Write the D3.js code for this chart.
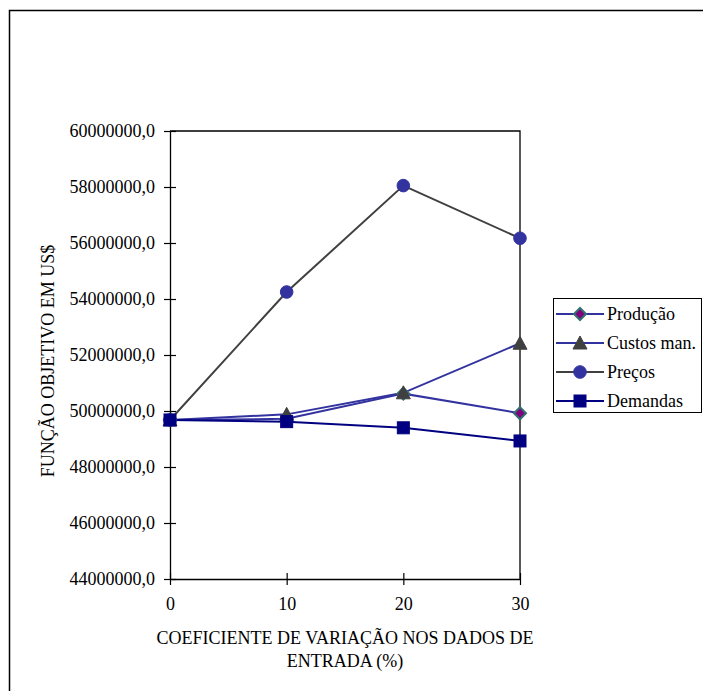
<!DOCTYPE html>
<html><head><meta charset="utf-8">
<script src="https://cdn.jsdelivr.net/npm/d3@7"></script>
<style>body{margin:0;background:#fff}svg{display:block}</style>
</head><body><svg id="c" width="703" height="691"></svg>
<script>
const xValues = [0, 10, 20, 30];
const producao = [49680000, 49720000, 50620000, 49920000];
const custos = [49680000, 49880000, 50650000, 52420000];
const precos = [49680000, 54250000, 58050000, 56170000];
const demandas = [49680000, 49620000, 49400000, 48930000];
const yTicks = [44000000, 46000000, 48000000, 50000000, 52000000, 54000000, 56000000, 58000000, 60000000];
const seriesNames = ["Produção", "Custos man.", "Preços", "Demandas"];

const FONT = '"Liberation Serif", "Times New Roman", serif';
const series = [
  {name: seriesNames[0], values: producao, line: "#3333a0", marker: "diamond", fill: "#800080", stroke: "#337070"},
  {name: seriesNames[1], values: custos, line: "#3333a0", marker: "triangle", fill: "#404040", stroke: "#404040"},
  {name: seriesNames[2], values: precos, line: "#404040", marker: "circle", fill: "#3333a0", stroke: "#3333a0"},
  {name: seriesNames[3], values: demandas, line: "#000080", marker: "square", fill: "#000080", stroke: "#000080"}
];

const svg = d3.select("#c");
const L = 170, R = 520, T = 131, B = 579;
const x = d3.scaleLinear().domain([0, 30]).range([L, R]);
const y = d3.scaleLinear().domain([44000000, 60000000]).range([B, T]);

// outer border
svg.append("rect").attr("x", 9.5).attr("y", 10.5).attr("width", 720).attr("height", 720)
  .attr("fill", "none").attr("stroke", "#000").attr("stroke-width", 1.5);

// plot frame top/right
svg.append("path").attr("d", `M${L},${T}H${R}V${B}`).attr("fill", "none").attr("stroke", "#000").attr("stroke-width", 1.3);

// y axis
const fmt = d => d3.format("d")(d) + ",0";
const yAx = svg.append("g").attr("transform", `translate(${L},0)`)
  .call(d3.axisLeft(y).tickValues(yTicks).tickFormat(fmt).tickSizeInner(6).tickSizeOuter(0).tickPadding(9));
yAx.selectAll(".tick line").attr("x1", 6).attr("x2", -6);
// x axis
const xAx = svg.append("g").attr("transform", `translate(0,${B})`)
  .call(d3.axisBottom(x).tickValues(xValues).tickFormat(d3.format("d")).tickSizeInner(6).tickSizeOuter(0).tickPadding(12));
xAx.selectAll(".tick line").attr("y1", -6).attr("y2", 6);
[yAx, xAx].forEach(a => {
  a.attr("font-family", null).style("font-family", FONT).attr("font-size", null);
  a.select(".domain").attr("stroke", "#000").attr("stroke-width", 1.3);
  a.selectAll(".tick line").attr("stroke", "#000").attr("stroke-width", 1.2);
  a.selectAll("text").style("font-size", "18px").style("font-family", FONT).attr("fill", "#000");
});

// axis titles
svg.append("text").attr("transform", "translate(54,361) rotate(-90)").attr("text-anchor", "middle")
  .style("font-family", FONT).style("font-size", "18px").text("FUNÇÃO OBJETIVO EM US$");
svg.append("text").attr("x", 345).attr("y", 644).attr("text-anchor", "middle")
  .style("font-family", FONT).style("font-size", "18px").text("COEFICIENTE DE VARIAÇÃO NOS DADOS DE");
svg.append("text").attr("x", 345).attr("y", 667).attr("text-anchor", "middle")
  .style("font-family", FONT).style("font-size", "18px").text("ENTRADA (%)");

function drawMarker(g, type, cx, cy, s) {
  let el;
  if (type === "circle") el = g.append("circle").attr("cx", cx).attr("cy", cy).attr("r", 6.3);
  else if (type === "square") el = g.append("rect").attr("x", cx - 6).attr("y", cy - 6).attr("width", 12).attr("height", 12);
  else if (type === "triangle") el = g.append("path").attr("d", `M${cx},${cy - 7}L${cx + 7},${cy + 6}L${cx - 7},${cy + 6}Z`);
  else el = g.append("path").attr("d", `M${cx},${cy - 6}L${cx + 6},${cy}L${cx},${cy + 6}L${cx - 6},${cy}Z`);
  el.attr("fill", s.fill).attr("stroke", s.stroke).attr("stroke-width", type === "diamond" ? 2 : 1);
}

const line = d3.line().x((d, i) => x(xValues[i])).y(d => y(d));
series.forEach(s => {
  svg.append("path").attr("d", line(s.values)).attr("fill", "none").attr("stroke", s.line).attr("stroke-width", 2);
});
series.forEach(s => {
  const g = svg.append("g");
  s.values.forEach((v, i) => drawMarker(g, s.marker, x(xValues[i]), y(v), s));
});

// legend
svg.append("rect").attr("x", 553.5).attr("y", 298.5).attr("width", 148).attr("height", 114)
  .attr("fill", "#fff").attr("stroke", "#000").attr("stroke-width", 1);
series.forEach((s, i) => {
  const ly = 314 + i * 29;
  const g = svg.append("g");
  g.append("line").attr("x1", 556).attr("x2", 604).attr("y1", ly).attr("y2", ly).attr("stroke", s.line).attr("stroke-width", 2);
  drawMarker(g, s.marker, 580, ly, s);
  g.append("text").attr("x", 607).attr("y", ly + 6).style("font-family", FONT).style("font-size", "18px").text(s.name);
});
</script></body></html>
